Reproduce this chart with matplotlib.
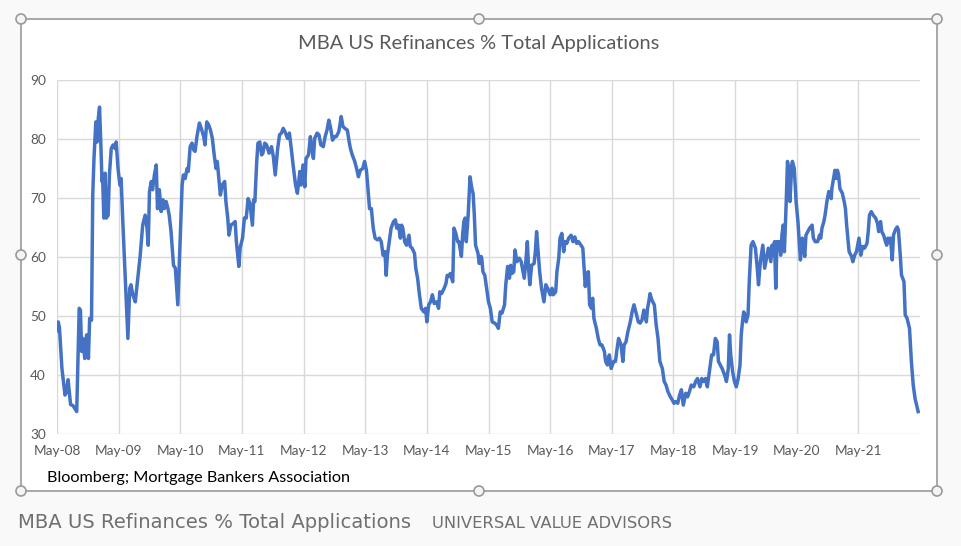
import matplotlib.pyplot as plt
from matplotlib.patches import Rectangle, Circle

# years since May-2008
t_years = [
    0.00, 0.02, 0.04, 0.08, 0.13, 0.15, 0.18, 0.22, 0.26, 0.29, 0.32, 0.36, 0.38, 0.40, 0.42, 0.45, 0.48, 0.51, 0.53, 0.56,
    0.58, 0.60, 0.63, 0.65, 0.67, 0.69, 0.71, 0.73, 0.74, 0.76, 0.78, 0.80, 0.83, 0.85, 0.88, 0.91, 0.94, 0.96, 0.99, 1.02,
    1.04, 1.07, 1.10, 1.12, 1.15, 1.18, 1.20, 1.23, 1.27, 1.31, 1.35, 1.39, 1.43, 1.46, 1.48, 1.50, 1.53, 1.55, 1.58, 1.61,
    1.63, 1.66, 1.69, 1.72, 1.74, 1.77, 1.80, 1.82, 1.85, 1.89, 1.92, 1.96,
    2.03, 2.05, 2.08, 2.11, 2.13, 2.16, 2.19, 2.22, 2.24, 2.27, 2.31, 2.34, 2.38, 2.40, 2.43, 2.46, 2.49, 2.52, 2.55, 2.58,
    2.60, 2.62, 2.65, 2.68, 2.72, 2.74, 2.77, 2.79, 2.82, 2.86, 2.89, 2.91, 2.95, 2.97, 3.01, 3.04, 3.07, 3.10, 3.13, 3.17,
    3.19, 3.21, 3.24, 3.26, 3.29, 3.32, 3.34, 3.37, 3.40, 3.44, 3.48, 3.51, 3.54, 3.58, 3.61, 3.64, 3.67, 3.70, 3.74, 3.77,
    3.80, 3.83, 3.87, 3.90, 3.94, 3.96, 3.99,
    4.02, 4.04, 4.08, 4.11, 4.14, 4.16, 4.18, 4.22, 4.25, 4.28, 4.32, 4.35, 4.38, 4.41, 4.44, 4.47, 4.50, 4.53, 4.57, 4.59,
    4.61, 4.64, 4.67, 4.71, 4.74, 4.76, 4.79, 4.83, 4.86, 4.89, 4.92, 4.96, 4.99, 5.02, 5.04, 5.07, 5.10, 5.13, 5.16, 5.20,
    5.23, 5.26, 5.29, 5.32, 5.34, 5.36, 5.39, 5.42, 5.46, 5.49, 5.51, 5.54, 5.57, 5.59, 5.61, 5.64, 5.67, 5.71, 5.73, 5.76,
    5.80, 5.82, 5.85, 5.88, 5.91, 5.95, 5.98, 6.00, 6.03,
    6.06, 6.09, 6.12, 6.16, 6.19, 6.21, 6.24, 6.28, 6.31, 6.33, 6.35, 6.38, 6.42, 6.44, 6.47, 6.50, 6.52, 6.56, 6.58, 6.60,
    6.62, 6.64, 6.67, 6.70, 6.73, 6.75, 6.77, 6.79, 6.83, 6.85, 6.88, 6.89, 6.91, 6.94, 6.97, 7.00, 7.03, 7.06, 7.10, 7.13,
    7.16, 7.19, 7.22, 7.26, 7.28, 7.31, 7.34, 7.36, 7.38, 7.41, 7.43, 7.46, 7.50, 7.53, 7.55, 7.58, 7.61, 7.63, 7.65, 7.67,
    7.70, 7.74, 7.76, 7.78, 7.80, 7.83, 7.86, 7.90, 7.93, 7.96,
    8.00, 8.03, 8.05, 8.09, 8.11, 8.14, 8.16, 8.19, 8.22, 8.24, 8.27, 8.30, 8.34, 8.37, 8.40, 8.43, 8.46, 8.50, 8.53, 8.55,
    8.57, 8.59, 8.62, 8.64, 8.67, 8.69, 8.71, 8.75, 8.78, 8.81, 8.84, 8.88, 8.90, 8.93, 8.96, 8.99, 9.03, 9.06, 9.08, 9.11,
    9.15, 9.18, 9.20, 9.23, 9.26, 9.30, 9.33, 9.36, 9.39, 9.43, 9.46, 9.49, 9.52, 9.56, 9.58, 9.60, 9.62, 9.65, 9.69, 9.72,
    9.75, 9.78, 9.82, 9.85, 9.88, 9.91, 9.95, 9.98, 10.01, 10.04,
    10.07, 10.10, 10.13, 10.16, 10.20, 10.23, 10.26, 10.29, 10.33, 10.36, 10.39, 10.43, 10.46, 10.49, 10.52, 10.55, 10.59, 10.62, 10.65, 10.68,
    10.71, 10.73, 10.76, 10.79, 10.83, 10.86, 10.89, 10.91, 10.93, 10.96, 10.99, 11.02, 11.05, 11.08, 11.10, 11.12, 11.14, 11.16, 11.18, 11.21,
    11.23, 11.26, 11.29, 11.33, 11.36, 11.38, 11.41, 11.45, 11.48, 11.51, 11.54, 11.58, 11.60, 11.62, 11.64, 11.66, 11.68, 11.72, 11.74, 11.76,
    11.78, 11.80, 11.83, 11.85, 11.87, 11.89, 11.92, 11.93, 11.96, 11.99, 12.02,
    12.04, 12.06, 12.09, 12.11, 12.13, 12.15, 12.18, 12.21, 12.25, 12.27, 12.30, 12.34, 12.37, 12.39, 12.41, 12.44, 12.46, 12.49, 12.52, 12.56,
    12.57, 12.59, 12.62, 12.64, 12.66, 12.68, 12.70, 12.74, 12.77, 12.79, 12.81, 12.83, 12.85, 12.89, 12.91, 12.94, 12.97, 13.01, 13.04, 13.07,
    13.10, 13.14, 13.16, 13.18, 13.21, 13.24, 13.28, 13.31, 13.33, 13.36, 13.38, 13.41, 13.44, 13.46, 13.48, 13.50, 13.52, 13.55, 13.57, 13.60,
    13.63, 13.65, 13.68, 13.70, 13.72, 13.74, 13.76, 13.79, 13.83, 13.86, 13.89, 13.92, 13.97,
]

# refinance share of total applications, %
refi_pct = [
    47.5, 49.0, 48.0, 41.1, 36.6, 37.0, 39.2, 35.0, 34.8, 34.3, 33.8, 51.3, 51.0, 44.0, 46.2, 42.8, 46.8, 42.8, 49.6, 49.3,
    70.5, 76.7, 82.9, 79.5, 83.5, 85.4, 79.5, 72.8, 73.5, 66.6, 74.2, 66.6, 67.1, 73.9, 78.4, 79.0, 78.4, 79.5, 75.0, 72.2,
    73.3, 65.4, 58.1, 53.6, 46.2, 54.7, 55.3, 53.6, 52.4, 56.4, 60.3, 65.4, 67.1, 64.9, 62.0, 71.1, 72.8, 71.4, 73.9, 75.6,
    68.2, 71.4, 67.7, 69.7, 68.2, 69.4, 68.2, 67.1, 64.3, 58.6, 58.1, 51.9,
    72.2, 73.9, 73.3, 75.0, 74.5, 78.7, 79.3, 78.1, 77.9, 80.4, 82.7, 81.8, 80.4, 79.0, 82.9, 82.4, 81.5, 80.1, 77.3, 75.0,
    76.2, 73.9, 70.5, 72.2, 72.8, 69.4, 66.6, 63.7, 65.4, 65.7, 66.0, 62.6, 58.4, 61.5, 63.2, 66.6, 66.6, 69.9, 69.1, 65.4,
    69.7, 69.4, 76.2, 79.3, 79.5, 77.3, 77.6, 79.3, 79.0, 77.6, 78.7, 77.0, 73.9, 78.4, 80.7, 81.0, 81.8, 81.2, 80.1, 81.0,
    78.4, 75.6, 72.2, 70.8, 74.5, 72.2, 75.6,
    71.9, 76.7, 77.3, 80.4, 77.9, 76.7, 80.1, 81.0, 80.7, 79.0, 78.7, 80.4, 81.5, 83.2, 81.8, 79.8, 80.4, 80.4, 81.2, 82.4,
    83.8, 82.1, 81.8, 81.5, 79.5, 78.4, 77.3, 76.2, 75.0, 73.6, 74.7, 75.0, 76.2, 74.7, 72.2, 68.2, 68.2, 64.9, 63.2, 62.9,
    63.2, 62.6, 60.3, 60.9, 56.9, 60.3, 62.6, 64.9, 66.0, 66.3, 64.9, 65.4, 63.2, 65.4, 64.9, 62.6, 62.0, 63.7, 61.8, 61.5,
    60.6, 58.1, 56.4, 53.6, 51.3, 50.7, 51.3, 49.0, 51.9,
    52.4, 53.6, 52.1, 52.4, 51.3, 54.1, 53.8, 54.7, 55.5, 56.9, 56.7, 57.2, 55.8, 64.9, 64.0, 62.6, 62.6, 60.1, 63.7, 66.0,
    66.6, 62.6, 67.1, 73.6, 71.6, 70.8, 67.1, 62.0, 60.6, 58.9, 60.1, 59.8, 57.5, 56.9, 54.7, 52.4, 51.3, 49.0, 48.8, 48.5,
    47.9, 50.7, 50.5, 51.9, 55.3, 58.4, 56.4, 58.6, 57.2, 57.5, 61.2, 59.2, 59.8, 59.2, 58.1, 56.4, 59.8, 62.6, 58.1, 55.3,
    58.6, 58.9, 60.9, 64.3, 61.5, 57.5, 54.7, 52.4, 55.3, 54.7,
    53.6, 54.7, 53.6, 54.1, 57.5, 59.8, 63.2, 64.0, 60.9, 62.6, 62.3, 63.2, 63.7, 62.6, 63.4, 62.3, 62.6, 62.0, 61.5, 58.1,
    55.0, 57.2, 57.5, 51.9, 51.3, 53.0, 49.6, 47.9, 46.2, 45.1, 45.1, 44.0, 42.3, 41.7, 43.4, 41.1, 42.3, 42.3, 44.0, 46.2,
    45.1, 42.3, 45.1, 45.6, 47.3, 49.0, 50.7, 51.9, 50.7, 49.0, 48.8, 49.3, 51.0, 49.0, 51.3, 52.4, 53.8, 52.7, 51.9, 48.5,
    46.2, 42.3, 41.1, 38.9, 38.3, 37.2, 36.3, 35.8, 35.2, 35.5,
    35.2, 36.6, 37.5, 34.9, 36.9, 36.3, 37.2, 38.3, 38.0, 38.9, 39.4, 38.0, 39.4, 38.9, 39.4, 38.0, 41.1, 43.4, 43.4, 46.2,
    45.6, 42.3, 41.7, 41.1, 40.0, 38.9, 41.1, 46.8, 43.4, 40.6, 38.9, 38.0, 39.4, 41.7, 46.8, 49.0, 50.7, 50.2, 49.0, 50.2,
    55.8, 62.0, 62.6, 61.5, 58.1, 55.3, 59.2, 62.0, 58.1, 59.8, 61.5, 59.2, 62.0, 60.3, 62.6, 54.7, 62.6, 62.6, 60.3, 63.7,
    65.4, 60.9, 69.4, 76.2, 75.0, 69.4, 75.6, 76.2, 75.0, 69.4, 66.0,
    62.6, 59.5, 63.2, 62.0, 60.1, 63.7, 64.3, 64.9, 65.4, 63.2, 62.6, 62.6, 63.7, 63.2, 64.9, 66.0, 67.1, 69.4, 71.1, 69.9,
    71.6, 72.8, 74.7, 73.3, 74.7, 73.9, 71.6, 70.8, 69.4, 68.2, 65.4, 63.2, 60.9, 60.1, 59.2, 60.3, 60.9, 63.2, 60.3, 61.8,
    61.5, 62.3, 64.3, 67.1, 67.7, 67.1, 66.6, 65.7, 64.3, 66.0, 64.3, 63.7, 62.6, 62.0, 63.2, 62.6, 63.2, 59.5, 63.7, 64.6,
    65.1, 64.6, 60.3, 56.9, 56.4, 55.8, 50.2, 49.6, 47.9, 42.3, 38.3, 36.0, 33.8,
]

x_labels = ["May-08", "May-09", "May-10", "May-11", "May-12", "May-13", "May-14",
            "May-15", "May-16", "May-17", "May-18", "May-19", "May-20", "May-21"]
y_ticks = [30, 40, 50, 60, 70, 80, 90]

W, H = 961, 546
fig = plt.figure(figsize=(W / 100, H / 100), dpi=100)
fig.patch.set_facecolor("#f9f9f9")

# background layer in pixel coords: chart frame, handles, texts
bg = fig.add_axes([0, 0, 1, 1])
bg.set_xlim(0, W)
bg.set_ylim(H, 0)
bg.axis("off")
bg.add_patch(Rectangle((21, 19), 916, 472, facecolor="white", edgecolor="#9a9a9a", lw=1.2))
for hx, hy in [(21, 19), (479, 19), (937, 19), (21, 255), (937, 255), (21, 491), (479, 491), (937, 491)]:
    bg.add_patch(Circle((hx, hy), 5, facecolor="#f4f4f4", edgecolor="#9a9a9a", lw=1.2, zorder=3))

bg.text(479, 44, "MBA US Refinances % Total Applications", ha="center", va="center",
        fontsize=14.4, color="#595959", family="Lato")
bg.text(47, 478, "Bloomberg; Mortgage Bankers Association", ha="left", va="center",
        fontsize=11.7, color="black", family="Lato")
bg.text(18, 523, "MBA US Refinances % Total Applications", ha="left", va="center",
        fontsize=14.1, color="#707070", family="DejaVu Sans")
bg.text(432, 523, "UNIVERSAL VALUE ADVISORS", ha="left", va="center",
        fontsize=11.8, color="#707070", family="DejaVu Sans")

# plot area
ax = fig.add_axes([57 / W, 1 - 434 / H, (920 - 57) / W, (434 - 80) / H])
ax.set_facecolor("white")
ax.plot(t_years, refi_pct, color="#4472C4", lw=2.5, solid_joinstyle="round")
ax.set_xlim(0, 14)
ax.set_ylim(30, 90)
ax.set_xticks(range(len(x_labels)))
ax.set_xticklabels(x_labels)
ax.set_yticks(y_ticks)
ax.grid(True, color="#d9d9d9", lw=1.0)
ax.set_axisbelow(True)
for s in ax.spines.values():
    s.set_visible(False)
ax.tick_params(length=0, labelsize=9.8, labelcolor="#595959", pad=8)
for lab in ax.get_xticklabels() + ax.get_yticklabels():
    lab.set_family("Lato")

fig.savefig("out.png", dpi=100, facecolor=fig.get_facecolor())
